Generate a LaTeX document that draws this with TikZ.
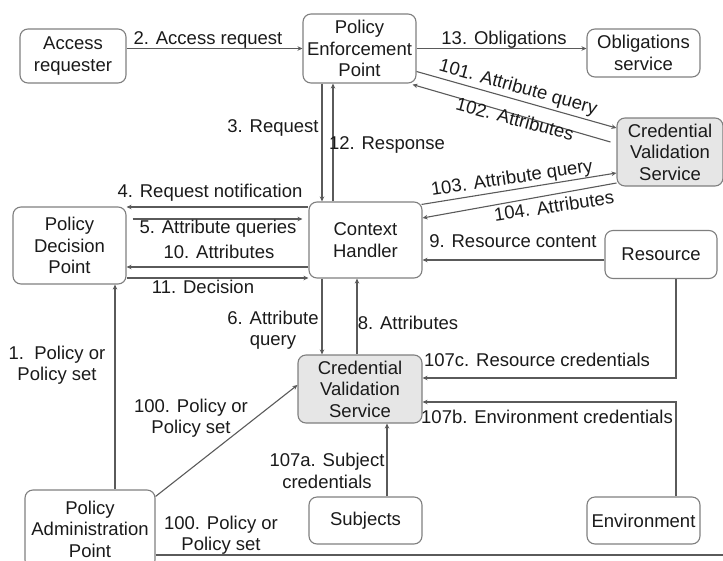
\documentclass[tikz,border=0pt]{standalone}
\usepackage{fontspec}
\setmainfont{Liberation Sans}
\usetikzlibrary{calc,arrows.meta}
\definecolor{boxgray}{HTML}{7F7F7F}
\definecolor{lnc}{HTML}{5A5A5A}
\definecolor{txt}{HTML}{1A1A1A}
\definecolor{cvsfill}{HTML}{E6E6E6}
\begin{document}
\begin{tikzpicture}[x=1pt,y=-1pt,
  font=\fontsize{18.5}{21.5}\selectfont,
  box/.style={draw=boxgray, line width=1.1pt, rounded corners=8pt, align=center, inner sep=0pt, text=txt},
  cvsbox/.style={fill=cvsfill},
  arr/.style={draw=lnc, line width=1.1pt, -{Stealth[length=5pt,width=4.5pt]}},
  ln/.style={draw=lnc, line width=1.1pt},
  lbl/.style={text=txt, align=center, inner sep=0pt}]
\useasboundingbox (0,0) rectangle (723,560);
% nodes
\node[box, minimum width=106pt, minimum height=54pt] (ar) at (73,56) {Access\\requester};
\node[box, minimum width=113pt, minimum height=69pt] (pep) at (359.5,48.5) {Policy\\Enforcement\\Point};
\node[box, minimum width=113pt, minimum height=48pt] (obl) at (643.5,53) {Obligations\\service};
\node[box, cvsbox, minimum width=106pt, minimum height=68pt] (cvsr) at (670,152) {Credential\\Validation\\Service};
\node[box, minimum width=113pt, minimum height=77pt] (pdp) at (69.5,245.5) {Policy\\Decision\\Point};
\node[box, minimum width=113pt, minimum height=76pt] (ch) at (365.5,240) {Context\\Handler};
\node[box, minimum width=112pt, minimum height=48pt] (res) at (661,254.5) {Resource};
\node[box, cvsbox, minimum width=124pt, minimum height=68pt] (cvs) at (360,389) {Credential\\Validation\\Service};
\node[box, minimum width=113pt, minimum height=47pt] (sub) at (365.5,520.5) {Subjects};
\node[box, minimum width=113pt, minimum height=47pt] (env) at (643.5,520.5) {Environment};
\node[box, minimum width=130pt, minimum height=78pt] (pap) at (90,529) {Policy\\Administration\\Point};
\coordinate (edge) at (723,555);
% helper coordinates
\coordinate (c3) at ($(pep.south)+(-37.5,0)$);
\coordinate (c12) at ($(pep.south)+(-26.5,0)$);
\coordinate (c4) at ($(ch.west)+(0,-33)$);
\coordinate (c5a) at ($(pdp.east |- ch.west)+(6,-21)$);
\coordinate (c5b) at ($(ch.west)+(-6,-21)$);
\coordinate (c10) at ($(ch.west)+(0,27)$);
\coordinate (c11) at ($(pdp.east)+(0,32.5)$);
\coordinate (c9) at ($(res.west)+(0,5.5)$);
\coordinate (c6) at ($(ch.south)+(-43.5,0)$);
\coordinate (c8) at ($(cvs.north)+(-3,0)$);
\coordinate (c107c) at ($(res.south)+(15,0)$);
\coordinate (c107b) at ($(env.north)+(32.5,0)$);
\coordinate (c107a) at ($(sub.north)+(21.5,0)$);
\coordinate (c1) at ($(pap.north)+(25,0)$);
% connectors
\draw[arr] (ar.east |- pep.west) -- (pep.west);
\draw[arr] (pep.east) -- (pep.east -| obl.west);
\draw[arr] ($(pep.east)+(0,23)$) -- ($(cvsr.west)+(0,-24)$);
\draw[arr] ($(cvsr.west)+(-6,-10)$) -- ($(pep.south east)+(-4,1)$);
\draw[arr] ($(ch.north east)+(-1,3)$) -- ($(cvsr.west)+(0,21)$);
\draw[arr] ($(cvsr.west)+(0,31)$) -- ($(ch.east)+(0,-22)$);
\draw[arr] (c3) -- (c3 |- ch.north);
\draw[arr] (c12 |- ch.north) -- (c12);
\draw[arr] (c4) -- (c4 -| pdp.east);
\draw[arr] (c5a) -- (c5b);
\draw[arr] (c10) -- (c10 -| pdp.east);
\draw[arr] (c11) -- (c11 -| ch.west);
\draw[arr] (c9) -- (c9 -| ch.east);
\draw[arr] (c6) -- (c6 |- cvs.north);
\draw[arr] (c8) -- (c8 |- ch.south);
\draw[arr] (c107c) |- ($(cvs.east)+(0,-11)$);
\draw[arr] (c107b) |- ($(cvs.east)+(0,13)$);
\draw[arr] (c107a) -- (c107a |- cvs.south);
\draw[arr] (c1) -- (c1 |- pdp.south);
\draw[arr] ($(pap.north east)+(0,7)$) -- ($(cvs.west)+(0,-4)$);
\draw[ln] ($(pap.east)+(0,26)$) -- (edge);
% labels
\node[lbl] (l2) at (208,40) {2. Access request};
\node[lbl] (l13) at (504,40) {13. Obligations};
\node[lbl, rotate=-15.6] (l101) at (518,88) {101. Attribute query};
\node[lbl, rotate=-15] (l102) at (515,119) {102. Attributes};
\node[lbl, rotate=8.5] (l103) at (512,179) {103. Attribute query};
\node[lbl, rotate=8.5] (l104) at (554,206) {104. Attributes};
\node[lbl] (l3) at (273,128) {3. Request};
\node[lbl] (l12) at (387,145) {12. Response};
\node[lbl] (l4) at (210,193) {4. Request notification};
\node[lbl] (l5) at (218,229) {5. Attribute queries};
\node[lbl] (l10) at (219,252) {10. Attributes};
\node[lbl] (l11) at (203,287) {11. Decision};
\node[lbl] (l9) at (513,241) {9. Resource content};
\node[lbl] (l6) at (273,330) {6. Attribute\\query};
\node[lbl] (l8) at (408,323) {8. Attributes};
\node[lbl] (l107c) at (537,360) {107c. Resource credentials};
\node[lbl] (l107b) at (547,417) {107b. Environment credentials};
\node[lbl] (l107a) at (327,471) {107a. Subject\\credentials};
\node[lbl] (l1) at (57,365) {1.\ \ Policy or\\Policy set};
\node[lbl] (l100a) at (191,418) {100. Policy or\\Policy set};
\node[lbl] (l100b) at (221,535) {100. Policy or\\Policy set};
\end{tikzpicture}
\end{document}
